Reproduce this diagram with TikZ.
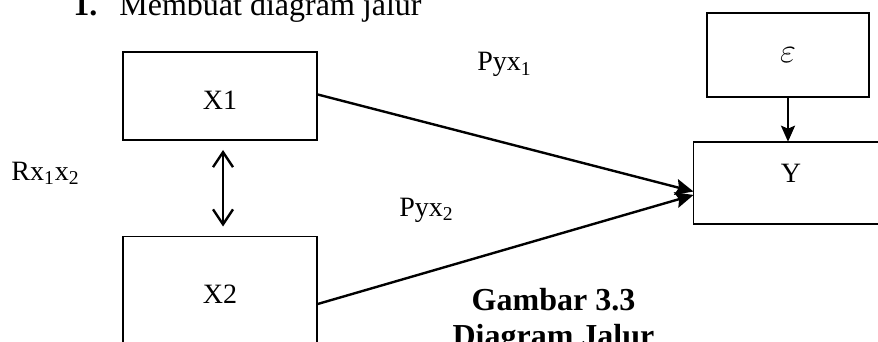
\documentclass[tikz,border=0pt]{standalone}
\usepackage{fontspec}
\setmainfont{Liberation Serif}
\usetikzlibrary{arrows.meta}

\begin{document}
\begin{tikzpicture}[x=0.5pt, y=-0.5pt,
	box/.style={draw, line width=0.9pt, inner sep=0pt, outer sep=0pt, font=\fontsize{14}{17}\selectfont},
	pathline/.style={line width=1.2pt, -{Stealth[length=9pt, width=8pt, inset=1.5pt]}},
	corrline/.style={line width=1.2pt, {Straight Barb[length=7.5pt, width=10pt]}-{Straight Barb[length=7.5pt, width=10pt]}},
	lbl/.style={anchor=base west, inner sep=0pt, font=\fontsize{14}{17}\selectfont},
	captext/.style={anchor=base, inner sep=0pt, font=\fontsize{16}{19}\selectfont\bfseries}]
	\useasboundingbox (0,0) rectangle (878,342);
	\clip (0,0) rectangle (878,342);
	% heading
	\node [anchor=base west, inner sep=0pt, font=\fontsize{16}{19}\selectfont\bfseries] (num) at (73,16) {1.};
	\node [anchor=base west, inner sep=0pt, font=\fontsize{16}{19}\selectfont] (title) at (119,16) {Membuat diagram jalur};
	% variables
	\node [box, minimum width=97pt, minimum height=44pt, text height=13.3pt, text depth=0pt] (X1) at (220,96) {X1};
	\node [box, minimum width=97pt, minimum height=57.5pt, text height=10pt, text depth=1pt] (X2) at (220,294) {X2};
	\node [box, minimum width=97.5pt, minimum height=41.3pt, text height=10pt, text depth=10.4pt] (Y) at (791,183) {Y};
	\node [box, minimum width=81pt, minimum height=42pt, font=\fontsize{17}{20}\selectfont] (eps) at (788,55) {$\varepsilon$};
	% connectors
	\draw [pathline] (X1.1) -- (Y.185);
	\draw [pathline] (X2.354) -- (Y.187);
	\draw [pathline, -{Stealth[length=8pt, width=7pt, inset=1.5pt]}] (eps.south) -- (eps.south |- Y.north);
	\draw [corrline, shorten <=5pt, shorten >=5pt] ([xshift=1.5pt]X1.south) -- ([xshift=1.5pt]X2.north);
	% coefficients
	\node [lbl] (pyx1) at (477,71) {Pyx\textsubscript{1}};
	\node [lbl] (pyx2) at (399,216) {Pyx\textsubscript{2}};
	\node [lbl] (rx) at (11,180) {Rx\textsubscript{1}x\textsubscript{2}};
	% caption
	\node [captext] (cap1) at (553.5,310.7) {Gambar 3.3};
	\node [captext] (cap2) at (553.5,346) {Diagram Jalur};
\end{tikzpicture}
\end{document}
